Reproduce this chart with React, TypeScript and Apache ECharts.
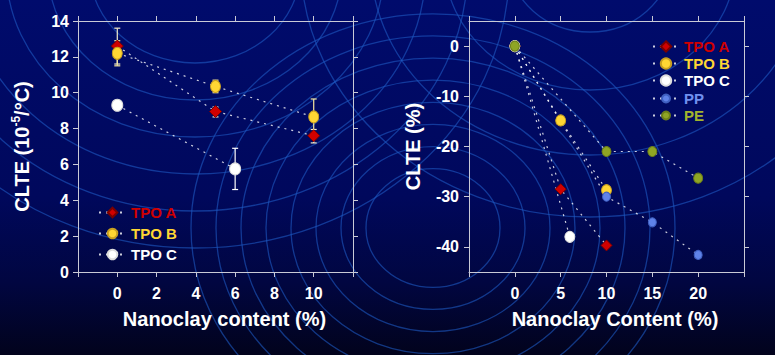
import React, { useEffect, useRef } from "react";
import * as echarts from "echarts";

// ---------- Left chart: CLTE (10^-5/°C) vs nanoclay content ----------
const LEFT_X_TICKS = [0, 2, 4, 6, 8, 10];
const L_TPO_A_X = [0, 5, 10];
const L_TPO_A_Y = [12.6, 8.95, 7.6];
const L_TPO_A_LOW = [11.6, 8.65, 7.2];
const L_TPO_A_HIGH = [13.6, 9.2, 7.95];

const L_TPO_B_X = [0, 5, 10];
const L_TPO_B_Y = [12.2, 10.35, 8.65];
const L_TPO_B_LOW = [11.5, 10.0, 7.7];
const L_TPO_B_HIGH = [12.9, 10.7, 9.65];

const L_TPO_C_X = [0, 6];
const L_TPO_C_Y = [9.3, 5.75];
const L_TPO_C_LOW = [null, 4.6];
const L_TPO_C_HIGH = [null, 6.9];

// ---------- Right chart: CLTE (%) vs nanoclay content ----------
const RIGHT_Y_TICKS = [-40, -30, -20, -10, 0];
const R_TPO_A_X = [0, 5, 10];
const R_TPO_A_Y = [0, -28.5, -39.7];
const R_TPO_B_X = [0, 5, 10];
const R_TPO_B_Y = [0, -14.8, -28.7];
const R_TPO_C_X = [0, 6];
const R_TPO_C_Y = [0, -38.0];
const R_PP_X = [0, 10, 15, 20];
const R_PP_Y = [0, -30.0, -35.1, -41.6];
const R_PE_X = [0, 10, 15, 20];
const R_PE_Y = [0, -21.0, -21.0, -26.3];

const FONT = "'Liberation Sans', Arial, sans-serif";
const AXIS_COLOR = "#c9cad6";
const RED = "#d00000";
const YELLOW = "#ffd633";
const WHITE = "#ffffff";
const BLUE = "#5f82e8";
const GREEN = "#8fa524";

const pairs = (xs: number[], ys: number[]) => xs.map((x, i) => [x, ys[i]]);

function lineSeries(
  name: string,
  xs: number[],
  ys: number[],
  symbol: string,
  size: number | number[],
  color: string,
  border: string,
  axisIdx: number
) {
  return {
    type: "line",
    name,
    xAxisIndex: axisIdx * 2,
    yAxisIndex: axisIdx * 2,
    data: pairs(xs, ys),
    symbol,
    symbolSize: size,
    showSymbol: true,
    z: 3,
    itemStyle: { color, borderColor: border, borderWidth: 1, opacity: 1 },
    lineStyle: { color: "rgba(255,255,255,0.8)", width: 1.2, type: [2, 5] },
    emphasis: { disabled: true },
  };
}

function errorSeries(
  name: string,
  xs: number[],
  lows: (number | null)[],
  highs: (number | null)[],
  color: string
) {
  const data = xs
    .map((x, i) => [x, lows[i], highs[i]])
    .filter((d) => d[1] != null && d[2] != null);
  return {
    type: "custom",
    name,
    xAxisIndex: 0,
    yAxisIndex: 0,
    z: 2,
    silent: true,
    encode: { x: 0, y: [1, 2] },
    data,
    renderItem: (_params: any, api: any) => {
      const x = api.value(0);
      const lo = api.value(1);
      const hi = api.value(2);
      const p1 = api.coord([x, hi]);
      const p2 = api.coord([x, lo]);
      const w = 3;
      const st = { stroke: color, lineWidth: 1.2 };
      return {
        type: "group",
        children: [
          { type: "line", shape: { x1: p1[0], y1: p1[1], x2: p2[0], y2: p2[1] }, style: st },
          { type: "line", shape: { x1: p1[0] - w, y1: p1[1], x2: p1[0] + w, y2: p1[1] }, style: st },
          { type: "line", shape: { x1: p2[0] - w, y1: p2[1], x2: p2[0] + w, y2: p2[1] }, style: st },
        ],
      };
    },
  };
}

function rings() {
  const els: any[] = [];
  const ring = (cx: number, cy: number, ry: number) => ({
    type: "ellipse",
    silent: true,
    z: -1,
    shape: { cx, cy, rx: ry * 1.13, ry },
    style: { fill: "none", stroke: "rgba(30,90,195,0.6)", lineWidth: 1.3 },
  });
  // centre-bottom bullseye
  for (let k = 0; k < 8; k++) els.push(ring(433, 228, (67 + 25 * k) / 1.13));
  // top-left set
  for (let k = 0; k < 6; k++) els.push(ring(195, -30, 93 + 37 * k));
  // top-right set
  [71, 129, 194, 256].forEach((r) => els.push(ring(590, -39, r)));
  return els;
}

const tickLabel = {
  color: "#ffffff",
  fontSize: 16,
  fontWeight: "bold",
  fontFamily: FONT,
};

const nameStyle = {
  color: "#ffffff",
  fontSize: 20,
  fontWeight: "bold",
  fontFamily: FONT,
};

function baseAxis(extra: any) {
  return {
    type: "value",
    axisLine: { show: true, onZero: false, lineStyle: { color: AXIS_COLOR, width: 1 } },
    axisTick: { show: true, inside: false, length: 5, lineStyle: { color: AXIS_COLOR } },
    splitLine: { show: false },
    ...extra,
  };
}

export default function App() {
  const ref = useRef<HTMLDivElement>(null);

  useEffect(() => {
    if (!ref.current) return;
    const chart = echarts.init(ref.current, null, { renderer: "svg" });

    const option: any = {
      animation: false,
      backgroundColor: {
        type: "linear",
        x: 0,
        y: 0,
        x2: 0,
        y2: 1,
        colorStops: [
          { offset: 0, color: "#000b6c" },
          { offset: 0.55, color: "#00085c" },
          { offset: 0.8, color: "#010640" },
          { offset: 1, color: "#02031c" },
        ],
      },
      graphic: rings(),
      grid: [
        { left: 78, top: 21, width: 275, height: 251 },
        { left: 469, top: 21, width: 275, height: 251 },
      ],
      legend: [
        {
          orient: "vertical",
          left: 98,
          top: 205,
          padding: 0,
          itemWidth: 27,
          itemHeight: 12,
          itemGap: 6,
          selectedMode: false,
          textStyle: { fontSize: 15, fontWeight: "bold", fontFamily: FONT },
          data: [
            { name: "TPO A", textStyle: { color: RED } },
            { name: "TPO B", textStyle: { color: YELLOW } },
            { name: "TPO C", textStyle: { color: WHITE } },
          ],
        },
        {
          orient: "vertical",
          left: 652,
          top: 39,
          padding: 0,
          itemWidth: 26,
          itemHeight: 13,
          itemGap: 2,
          selectedMode: false,
          textStyle: { fontSize: 15, fontWeight: "bold", fontFamily: FONT },
          data: [
            { name: "TPO A", textStyle: { color: RED } },
            { name: "TPO B", textStyle: { color: YELLOW } },
            { name: "TPO C", textStyle: { color: WHITE } },
          ],
        },
        {
          orient: "vertical",
          left: 652,
          top: 91,
          padding: 0,
          itemWidth: 26,
          itemHeight: 10,
          itemGap: 2,
          selectedMode: false,
          textStyle: { fontSize: 15, fontWeight: "bold", fontFamily: FONT },
          data: [
            { name: "PP", textStyle: { color: "#7090f0" } },
            { name: "PE", textStyle: { color: "#a2b42c" } },
          ],
        },
      ],
      xAxis: [
        baseAxis({
          gridIndex: 0,
          position: "bottom",
          min: -2,
          max: 12,
          interval: 2,
          axisLabel: {
            ...tickLabel,
            margin: 13,
            formatter: (v: number) => (LEFT_X_TICKS.includes(v) ? String(v) : ""),
          },
          name: "Nanoclay content (%)",
          nameLocation: "middle",
          nameGap: 37,
          nameTextStyle: { ...nameStyle, padding: [0, 0, 0, 18] },
        }),
        baseAxis({
          gridIndex: 0,
          position: "top",
          min: -2,
          max: 12,
          interval: 2,
          axisLabel: { show: false },
        }),
        baseAxis({
          gridIndex: 1,
          position: "bottom",
          min: -5,
          max: 25,
          interval: 5,
          axisLabel: {
            ...tickLabel,
            margin: 13,
            formatter: (v: number) => (v >= 0 && v <= 20 ? String(v) : ""),
          },
          name: "Nanoclay Content (%)",
          nameLocation: "middle",
          nameGap: 37,
          nameTextStyle: { ...nameStyle, padding: [0, 0, 0, 17] },
        }),
        baseAxis({
          gridIndex: 1,
          position: "top",
          min: -5,
          max: 25,
          interval: 5,
          axisLabel: { show: false },
        }),
      ],
      yAxis: [
        baseAxis({
          gridIndex: 0,
          position: "left",
          min: 0,
          max: 14,
          interval: 2,
          axisLabel: { ...tickLabel, margin: 9 },
          name: "{a|CLTE (10}{s|-5}{a|/°C)}",
          nameLocation: "middle",
          nameGap: 44,
          nameTextStyle: {
            ...nameStyle,
            rich: {
              a: { ...nameStyle },
              s: { ...nameStyle, fontSize: 12, padding: [0, 0, 12, 0] },
            },
          },
        }),
        baseAxis({
          gridIndex: 0,
          position: "right",
          min: 0,
          max: 14,
          interval: 2,
          axisLabel: { show: false },
        }),
        baseAxis({
          gridIndex: 1,
          position: "left",
          min: -45,
          max: 5,
          axisTick: {
            show: true,
            inside: false,
            length: 5,
            lineStyle: { color: AXIS_COLOR },
            customValues: RIGHT_Y_TICKS,
          },
          axisLabel: { ...tickLabel, margin: 10, customValues: RIGHT_Y_TICKS },
          name: "CLTE (%)",
          nameLocation: "middle",
          nameGap: 46,
          nameTextStyle: { ...nameStyle },
        }),
        baseAxis({
          gridIndex: 1,
          position: "right",
          min: -45,
          max: 5,
          axisTick: {
            show: true,
            inside: false,
            length: 5,
            lineStyle: { color: AXIS_COLOR },
            customValues: RIGHT_Y_TICKS,
          },
          axisLabel: { show: false, customValues: RIGHT_Y_TICKS },
        }),
      ],
      series: [
        errorSeries("errA", L_TPO_A_X, L_TPO_A_LOW, L_TPO_A_HIGH, "#f3eccd"),
        errorSeries("errB", L_TPO_B_X, L_TPO_B_LOW, L_TPO_B_HIGH, "#f6e7a0"),
        errorSeries("errC", L_TPO_C_X, L_TPO_C_LOW, L_TPO_C_HIGH, "#ffffff"),
        lineSeries("TPO A", L_TPO_A_X, L_TPO_A_Y, "diamond", 12, RED, "#7a0000", 0),
        lineSeries("TPO B", L_TPO_B_X, L_TPO_B_Y, "circle", [10, 12], YELLOW, "#c9a020", 0),
        lineSeries("TPO C", L_TPO_C_X, L_TPO_C_Y, "circle", [11, 12], WHITE, "#dddddd", 0),
        lineSeries("TPO A", R_TPO_A_X, R_TPO_A_Y, "diamond", 11, RED, "#7a0000", 1),
        lineSeries("TPO B", R_TPO_B_X, R_TPO_B_Y, "circle", [10, 11], YELLOW, "#c9a020", 1),
        lineSeries("TPO C", R_TPO_C_X, R_TPO_C_Y, "circle", [10, 11], WHITE, "#dddddd", 1),
        lineSeries("PP", R_PP_X, R_PP_Y, "circle", [8, 9], BLUE, "#3f5fc0", 1),
        lineSeries("PE", R_PE_X, R_PE_Y, "circle", [9, 10], GREEN, "#6d7f18", 1),
      ],
    };

    chart.setOption(option);
    return () => chart.dispose();
  }, []);

  return (
    <div
      ref={ref}
      style={{ position: "fixed", left: 0, top: 0, width: 775, height: 355 }}
    />
  );
}
